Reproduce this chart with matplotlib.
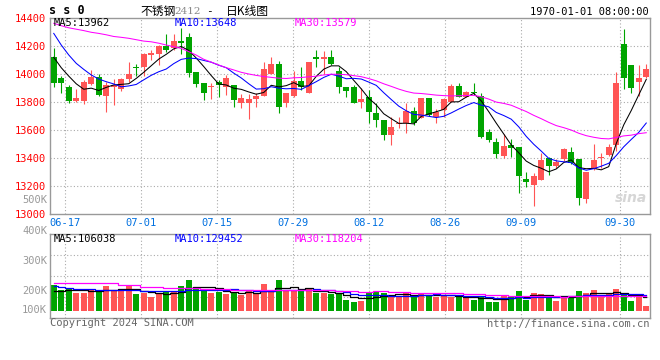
import matplotlib
matplotlib.use("Agg")
import matplotlib.pyplot as plt
import pandas as pd

# SS0 daily candles, 2024-06-13 .. 2024-10-11 (80 trading days)
opens = [14124, 13970, 13905, 13810, 13810, 13929, 13976, 13843, 13910, 13890,
         13962, 14050, 14052, 14136, 14140, 14200, 14188, 14236, 14267, 14017,
         13933, 13905, 13945, 13910, 13921, 13790, 13790, 13819, 13843, 14000,
         14071, 13795, 13843, 13950, 13867, 14124, 14105, 14124, 14021, 13910,
         13910, 13800, 13833, 13719, 13671, 13564, 13643, 13648, 13736, 13683,
         13831, 13695, 13743, 13802, 13914, 13838, 13874, 13843, 13588, 13517,
         13417, 13493, 13481, 13248, 13207, 13243, 13398, 13343, 13390, 13445,
         13390, 13105, 13319, 13400, 13421, 13493, 14214, 14064, 13945, 13981]
closes = [13938, 13933, 13810, 13830, 13945, 13976, 13850, 13921, 13918, 13964,
          14000, 14040, 14140, 14152, 14200, 14171, 14236, 14224, 14010, 13929,
          13867, 13914, 13924, 13974, 13814, 13826, 13821, 13843, 14036, 14071,
          13767, 13867, 13950, 13905, 14088, 14105, 14124, 14069, 13905, 13881,
          13795, 13819, 13731, 13671, 13564, 13619, 13652, 13736, 13648, 13831,
          13707, 13731, 13819, 13914, 13838, 13874, 13862, 13552, 13529, 13429,
          13486, 13469, 13274, 13231, 13274, 13386, 13343, 13374, 13462, 13367,
          13112, 13302, 13386, 13410, 13481, 13938, 13969, 13898, 13969, 14033]
highs = [14183, 13986, 13921, 13890, 13957, 14029, 14000, 13945, 13962, 13970,
         14086, 14071, 14152, 14171, 14205, 14286, 14286, 14326, 14290, 14017,
         13933, 13938, 13955, 13993, 13921, 13857, 13857, 13862, 14088, 14124,
         14093, 13867, 14021, 14048, 14088, 14171, 14167, 14171, 14052, 13910,
         13921, 13898, 13886, 13790, 13671, 13690, 13695, 13790, 13762, 13831,
         13831, 13748, 13826, 13929, 13938, 13880, 13933, 13867, 13605, 13540,
         13571, 13533, 13481, 13298, 13290, 13433, 13410, 13390, 13470, 13476,
         13390, 13302, 13500, 13438, 13500, 14017, 14321, 14064, 14064, 14071]
lows = [13910, 13867, 13790, 13800, 13786, 13919, 13843, 13731, 13779, 13880,
        13945, 13986, 13986, 14100, 14064, 14160, 14171, 14140, 13981, 13910,
        13814, 13819, 13838, 13850, 13762, 13755, 13676, 13762, 13843, 14000,
        13719, 13767, 13833, 13886, 13867, 14052, 14000, 14064, 13867, 13838,
        13790, 13755, 13648, 13619, 13529, 13493, 13612, 13581, 13636, 13683,
        13700, 13652, 13695, 13800, 13835, 13835, 13850, 13540, 13517, 13398,
        13398, 13410, 13148, 13195, 13060, 13240, 13279, 13330, 13380, 13360,
        13064, 13081, 13314, 13326, 13417, 13452, 13890, 13867, 13843, 13969]
volumes = [211800, 170500, 178800, 148500, 148500, 178800, 162300, 203500, 162300, 170500,
           203500, 137500, 148500, 115500, 143000, 162300, 162300, 203500, 253000, 198000,
           170500, 148500, 156800, 137500, 156800, 129300, 170500, 137500, 220000, 156800,
           253000, 165000, 165000, 165000, 178800, 148500, 143000, 137500, 137500, 88000,
           71500, 79800, 156800, 156800, 143000, 129300, 115500, 143000, 121000, 148500,
           129300, 115500, 129300, 115500, 110000, 110000, 88000, 121000, 74300, 74300,
           129300, 110000, 165000, 88000, 148500, 137500, 110000, 79800, 121000, 121000,
           162300, 148500, 170500, 115500, 148500, 178800, 129300, 82500, 115500, 38500]

# moving average values at the left edge (history before the first candle)
ma5_head = [14119, 14045, 13985, 13930]
ma10_head = [14290, 14207, 14136, 14076, 14033, 13993, 13964, 13945, 13929]
ma30_head = [14362, 14345, 14330, 14320, 14310, 14298, 14290, 14280, 14268, 14262,
             14255, 14245, 14235, 14230, 14220, 14207, 14195, 14183, 14160, 14135,
             14105, 14085, 14064, 14045, 14029, 14012, 14000, 13990, 13982]
vma5_head = [162000, 165000, 170000, 170000]
vma10_head = [200000, 192000, 185000, 178000, 175000, 175000, 174000, 174000, 174000]
vma30_head = [225000] * 9 + [212000] * 3 + [198000] * 3 + [185000] * 5 + [176000] * 4 + [168000] * 5

date_labels = ['06-17', '07-01', '07-15', '07-29', '08-12', '08-26', '09-09', '09-30']
date_idx = [2, 12, 22, 32, 42, 52, 62, 75]
price_ticks = [13000, 13200, 13400, 13600, 13800, 14000, 14200, 14400]
vol_labels = ['500K', '400K', '300K', '200K', '100K']
price_ma_labels = ['MA5:13962', 'MA10:13648', 'MA30:13579']
vol_ma_labels = ['MA5:106038', 'MA10:129452', 'MA30:118204']

RED = '#ff5555'
GREEN = '#00a400'
MA_COLORS = ['black', '#0000ff', '#ff00ff']
GRID = '#aaaaaa'
MONO = 'DejaVu Sans Mono'


def moving_avg(values, n, head):
    s = pd.Series(values, dtype=float).rolling(n).mean()
    s.iloc[:n - 1] = head
    return s


n = len(closes)
x = list(range(n))
colors = [RED if c >= o else GREEN for o, c in zip(opens, closes)]

W, H = 660, 360
fig = plt.figure(figsize=(6.6, 3.6), dpi=100)
fig.patch.set_facecolor('white')


def fx(px):
    return px / W


def fy(py):
    return 1 - py / H


ax = fig.add_axes([fx(50), fy(214), fx(600), (214 - 18) / H])
axv = fig.add_axes([fx(50), fy(317.7), fx(600), (317.7 - 234) / H])

# grid positions of the date lines (sina spaces them on n-1 slots)
grid_x = [d * n / (n - 1) - 0.5 for d in date_idx]

for a in (ax, axv):
    a.set_xlim(-0.5, n - 0.5)
    for s in a.spines.values():
        s.set_color('#999999')
        s.set_linewidth(1.0)
    for gx in grid_x:
        a.axvline(gx, color=GRID, lw=0.8, ls=(0, (1, 2)), zorder=0)

# price panel
ax.set_ylim(13000, 14400)
for p in price_ticks[1:-1]:
    ax.axhline(p, color=GRID, lw=0.8, ls=(0, (1, 2)), zorder=0)
ax.vlines(x, lows, highs, colors=colors, lw=0.8, zorder=2)
bottoms = [min(o, c) for o, c in zip(opens, closes)]
heights = [max(abs(c - o), 7) for o, c in zip(opens, closes)]
ax.bar(x, heights, bottom=bottoms, width=0.8, color=colors, lw=0, zorder=3)

ma_series = [moving_avg(closes, 5, ma5_head), moving_avg(closes, 10, ma10_head),
             moving_avg(closes, 30, ma30_head)]
for s, col in zip(ma_series, MA_COLORS):
    ax.plot(x, s, color=col, lw=0.75, zorder=4)

ax.set_yticks(price_ticks)
ax.set_yticklabels([str(p) for p in price_ticks], color='red', fontsize=7.5, family=MONO)
ax.set_xticks(grid_x)
ax.set_xticklabels(date_labels, color='#0070e0', fontsize=7.5, family=MONO)
ax.tick_params(length=0, pad=3)

# volume panel
vlo, vhi = -57750, 632800
axv.set_ylim(vlo, vhi)
for f in (0.25, 0.5, 0.75):
    axv.axhline(vlo + f * (vhi - vlo), color=GRID, lw=0.8, ls=(0, (1, 2)), zorder=0)
axv.bar(x, volumes, width=0.8, color=colors, lw=0, zorder=2)
vma_series = [moving_avg(volumes, 5, vma5_head), moving_avg(volumes, 10, vma10_head),
              moving_avg(volumes, 30, vma30_head)]
for s, col in zip(vma_series, MA_COLORS):
    axv.plot(x, s, color=col, lw=0.9, drawstyle='steps-mid', zorder=3)
axv.set_xticks([])
axv.set_yticks([])

# texts
txt = dict(family=MONO, fontsize=7.5, va='center')
for lab, px, col in zip(price_ma_labels, [54, 175, 295], MA_COLORS):
    fig.text(fx(px), fy(23), lab, color=col, **txt)
for lab, px, col in zip(vol_ma_labels, [54, 175, 295], MA_COLORS):
    fig.text(fx(px), fy(238.5), lab, color=col, **txt)
for lab, py in zip(vol_labels, [200, 230.7, 261, 290.7, 310]):
    fig.text(fx(47), fy(py), lab, color='#999999', ha='right', **txt)

fig.text(fx(49), fy(11), 's s 0', color='black', family=MONO, fontsize=8.5,
         fontweight='bold', va='center')
cjk = ['Noto Sans CJK SC', 'DejaVu Sans']
fig.text(fx(140), fy(11), '不锈钢', family=cjk, fontsize=8.5, va='center')
fig.text(fx(174), fy(11.5), '2412', family='DejaVu Serif', fontsize=7.5,
         color='#888888', va='center')
fig.text(fx(206), fy(11), '-', family=MONO, fontsize=8, va='center')
fig.text(fx(226), fy(11), '日K线图', family=cjk, fontsize=8.5, va='center')
fig.text(fx(649), fy(12), '1970-01-01 08:00:00', color='black', ha='right', **txt)
fig.text(fx(50), fy(323), 'Copyright 2024 SINA.COM', color='#666666', **txt)
fig.text(fx(649), fy(324), 'http://finance.sina.com.cn', color='#666666', ha='right', **txt)
fig.text(fx(647), fy(198), 'sina', color='#d6d6d6', ha='right', family='DejaVu Sans',
         fontsize=10, fontweight='bold', style='italic', va='center')

fig.savefig('out.png', dpi=100, facecolor='white')
